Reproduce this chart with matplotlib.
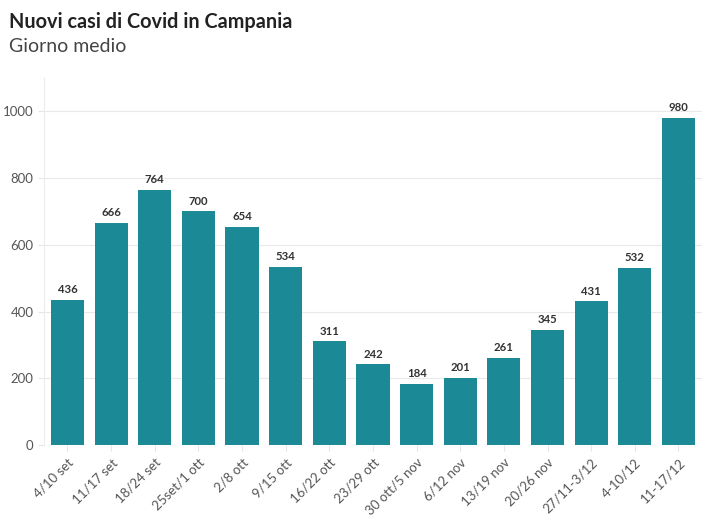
import matplotlib.pyplot as plt

settimane = ['4/10 set', '11/17 set', '18/24 set', '25set/1 ott', '2/8 ott',
             '9/15 ott', '16/22 ott', '23/29 ott', '30 ott/5 nov', '6/12 nov',
             '13/19 nov', '20/26 nov', '27/11-3/12', '4-10/12', '11-17/12']
casi = [436, 666, 764, 700, 654, 534, 311, 242, 184, 201, 261, 345, 431, 532, 980]
yticks = [0, 200, 400, 600, 800, 1000]

plt.rcParams['font.family'] = ['Lato', 'DejaVu Sans']

fig = plt.figure(figsize=(7.2, 5.2), dpi=100)
ax = fig.add_axes([0.061, 0.144, 0.914, 0.706])

x = range(len(casi))
ax.bar(x, casi, width=0.76, color='#1b8a96', zorder=3)
for xi, v in zip(x, casi):
    ax.text(xi, v + 14, str(v), ha='center', va='bottom', fontsize=8.2,
            fontweight='bold', color='#333333')

ax.set_xlim(-0.54, len(casi) - 0.46)
ax.set_ylim(0, 1100)
ax.set_yticks(yticks)
ax.set_xticks(list(x))
ax.set_xticklabels(settimane, rotation=45, ha='right', rotation_mode='anchor',
                   fontsize=9.5, color='#555555')
ax.tick_params(axis='y', labelsize=9.5, labelcolor='#555555', length=4,
               color='#e6e6e6')
ax.tick_params(axis='x', length=4, color='#e6e6e6', pad=4)
ax.grid(axis='y', color='#e9e9e9', linewidth=0.8, zorder=0)
for s in ['top', 'right', 'bottom']:
    ax.spines[s].set_visible(False)
ax.spines['left'].set_color('#ececec')

fig.text(0.012, 0.957, 'Nuovi casi di Covid in Campania', fontsize=14.3,
         fontweight='bold', color='#222222', va='center')
fig.text(0.012, 0.91, 'Giorno medio', fontsize=14, color='#444444',
         va='center')

fig.savefig('out.png', dpi=100)
